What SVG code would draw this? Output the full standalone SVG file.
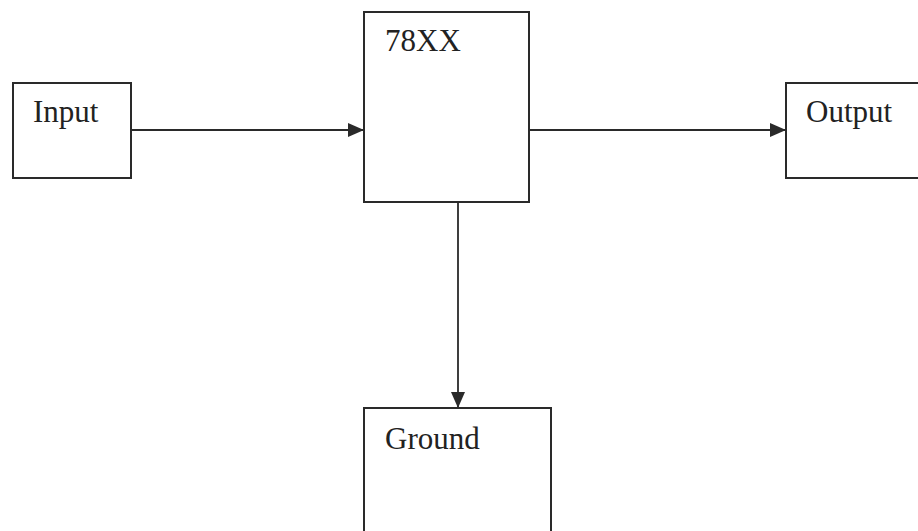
<svg xmlns="http://www.w3.org/2000/svg" width="918" height="531" viewBox="0 0 918 531">
<style>
.box{fill:#fff;stroke:#2a2a2a;stroke-width:2}
.lbl{font-family:"Liberation Serif",serif;font-size:31px;fill:#222}
.conn{stroke:#2a2a2a;stroke-width:1.8;fill:none}
</style>
<defs>
<marker id="ah" viewBox="0 0 16 14" refX="16" refY="7" markerWidth="16" markerHeight="14" markerUnits="userSpaceOnUse" orient="auto">
<path d="M0,0 L16,7 L0,14 Z" fill="#2a2a2a"/>
</marker>
</defs>
<rect width="918" height="531" fill="#fff"/>
<g id="input"><rect class="box" x="13" y="83" width="118" height="95"/><text class="lbl" x="33" y="122">Input</text></g>
<g id="regulator"><rect class="box" x="364" y="12" width="165" height="190"/><text class="lbl" x="385" y="51">78XX</text></g>
<g id="output"><rect class="box" x="786" y="83" width="140" height="95"/><text class="lbl" x="806" y="122">Output</text></g>
<g id="ground"><rect class="box" x="364" y="408" width="187" height="140"/><text class="lbl" x="385" y="449">Ground</text></g>
<g id="connectors">
<line class="conn" x1="131" y1="130" x2="364" y2="130" marker-end="url(#ah)"/>
<line class="conn" x1="529" y1="130" x2="786" y2="130" marker-end="url(#ah)"/>
<line class="conn" x1="458" y1="202" x2="458" y2="408" marker-end="url(#ah)"/>
</g>
</svg>
